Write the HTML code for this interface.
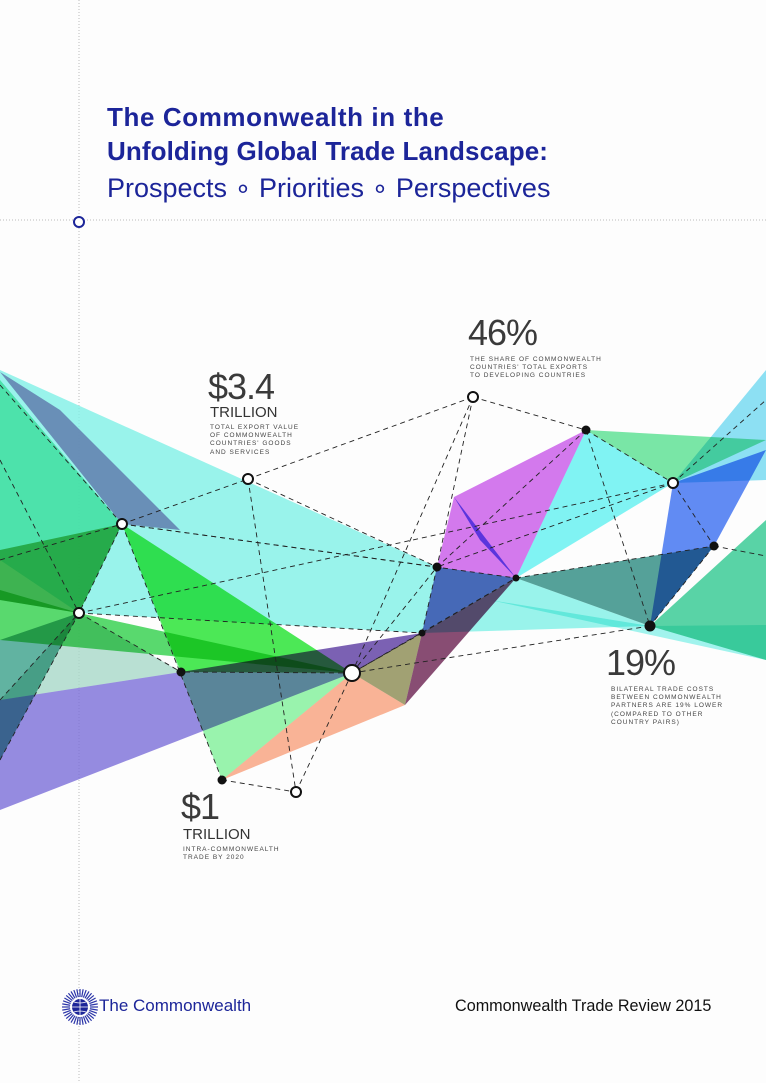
<!DOCTYPE html>
<html><head><meta charset="utf-8"><style>
html,body{margin:0;padding:0;background:#fdfdfd;}
#wrap{position:relative;width:766px;height:1083px;overflow:hidden;background:#fdfdfd;font-family:"Liberation Sans",sans-serif;}
.t{position:absolute;color:#1c2599;white-space:nowrap;}
.big{position:absolute;color:#3a3a3a;font-size:36px;letter-spacing:-1px;}
.tr{position:absolute;color:#333;font-size:15px;}
.sm{position:absolute;color:#444;font-size:6.5px;letter-spacing:1px;line-height:8.2px;}
svg{position:absolute;left:0;top:0;}
</style></head><body>
<div id="wrap">
<svg width="766" height="1083">
 <line x1="79" y1="0" x2="79" y2="1083" stroke="#bbb" stroke-dasharray="1,2"/>
 <line x1="0" y1="220" x2="766" y2="220" stroke="#bbb" stroke-dasharray="1,2"/>
 <circle cx="79" cy="222" r="5" fill="#fff" stroke="#1c2599" stroke-width="2"/>
 <g id="polys" style="isolation:isolate"></g>
 <g id="lines"></g>
 <g id="nodes"></g>
</svg>
<div class="t" style="left:107px;top:102px;font-size:26px;font-weight:bold;letter-spacing:0.6px;">The Commonwealth in the</div>
<div class="t" style="left:107px;top:136px;font-size:26px;font-weight:bold;letter-spacing:0.1px;">Unfolding Global Trade Landscape:</div>
<div class="t" style="left:107px;top:173px;font-size:27px;">Prospects ∘ Priorities ∘ Perspectives</div>

<div class="big" style="left:468px;top:312px;">46%</div>
<div class="sm" style="left:470px;top:356px;">THE SHARE OF COMMONWEALTH<br>COUNTRIES' TOTAL EXPORTS<br>TO DEVELOPING COUNTRIES</div>

<div class="big" style="left:208px;top:366px;">$3.4</div>
<div class="tr" style="left:210px;top:404px;">TRILLION</div>
<div class="sm" style="left:210px;top:424px;">TOTAL EXPORT VALUE<br>OF COMMONWEALTH<br>COUNTRIES' GOODS<br>AND SERVICES</div>

<div class="big" style="left:606px;top:642px;">19%</div>
<div class="sm" style="left:611px;top:686px;">BILATERAL TRADE COSTS<br>BETWEEN COMMONWEALTH<br>PARTNERS ARE 19% LOWER<br>(COMPARED TO OTHER<br>COUNTRY PAIRS)</div>

<div class="big" style="left:181px;top:786px;">$1</div>
<div class="tr" style="left:183px;top:826px;">TRILLION</div>
<div class="sm" style="left:183px;top:846px;">INTRA-COMMONWEALTH<br>TRADE BY 2020</div>

<svg width="40" height="40" style="left:60px;top:987px;">
 <g stroke="#2a34a8" stroke-width="1.2" id="rays"></g>
 <circle cx="20" cy="20" r="8" fill="#1c2599"/>
 <path d="M12 20h16M20 12v16M14 15q6 2 12 0M14 25q6-2 12 0" stroke="#fff" stroke-width="0.8" fill="none"/>
</svg>
<div class="t" style="left:99px;top:996px;font-size:17px;color:#1c2599;">The Commonwealth</div>
<div class="t" style="left:455px;top:997px;font-size:16.2px;color:#111;">Commonwealth Trade Review 2015</div>
</div>
<script>
const nodeNames=['A','B','C','D','E','F','G','H','I','J','K','L','M','N','O','P'];
const nodeX=[122,79,248,473,586,673,714,437,516,422,650,352,181,222,296,405];
const nodeY=[524,613,479,397,430,483,546,567,578,633,626,673,672,780,792,705];
const nodeType=['o','o','o','o','f','o','f','f','fs','fs','fl','ol','f','f','o','n'];
const NS='http://www.w3.org/2000/svg';
function P(n){const i=nodeNames.indexOf(n);return [nodeX[i],nodeY[i]];}
const polys=[
 ['#7ff0e6',[[0,370],[437,567],[516,578],[650,626],[422,633],[79,613],[0,560]]],
 ['#5fe8a8',[[0,380],[122,524],[79,613],[0,600]]],
 ['#9a7ab8',[[0,372],[122,524],[180,530],[60,410]]],
 ['#5cf05c',[[122,524],[352,673],[181,672]]],
 ['#7ff098',[[122,524],[352,673],[222,780]]],
 ['#5ab04a',[[0,550],[122,524],[79,613],[0,600]]],
 ['#2fd04a',[[0,590],[79,613],[352,673],[0,640]]],
 ['#3aa08a',[[0,640],[79,613],[0,760]]],
 ['#7a6ed8',[[0,700],[181,672],[352,673],[0,810]]],
 ['#a8d8c8',[[79,613],[181,672],[0,700]]],
 ['#5a3aa0',[[181,672],[352,673],[422,633]]],
 ['#f8a07c',[[222,780],[352,673],[405,705]]],
 ['#8a8a50',[[352,673],[422,633],[405,705]]],
 ['#6a2050',[[422,633],[516,578],[405,705]]],
 ['#5048b8',[[437,567],[516,578],[422,633]]],
 ['#c858e8',[[454,497],[586,430],[516,578],[437,567]]],
 ['#4848e8',[[454,497],[516,578],[480,540]]],
 ['#60f0f0',[[586,430],[673,483],[516,578]]],
 ['#58e090',[[586,430],[766,440],[673,483]]],
 ['#70d8f0',[[673,483],[766,370],[766,480]]],
 ['#3a6ef0',[[673,483],[766,450],[714,546],[650,626]]],
 ['#2a8a80',[[516,578],[714,546],[650,626]]],
 ['#30c890',[[650,626],[766,520],[766,660]]],
 ['#8af0e8',[[490,600],[650,626],[766,625],[766,660]]]
];
const pg=document.getElementById('polys');
polys.forEach((p,i)=>{const e=document.createElementNS(NS,'polygon');
 e.setAttribute('points',p[1].map(q=>q.join(',')).join(' '));
 e.setAttribute('fill',p[0]);e.setAttribute('fill-opacity','0.8');
 e.style.mixBlendMode='multiply';
 
 
 pg.appendChild(e);});
const edges=['C-D','D-E','E-F','A-C','C-H','D-L','E-K','E-H','F-H','B-F','A-I','I-G','F-G','G-K','K-L','L-M','N-O','O-L','A-N','C-O','L-I','L-H','J-I','J-L','B-J','A-H','B-M','A-B','H-J','D-H'];
const lg=document.getElementById('lines');
function line(a,b){const e=document.createElementNS(NS,'line');
 e.setAttribute('x1',a[0]);e.setAttribute('y1',a[1]);e.setAttribute('x2',b[0]);e.setAttribute('y2',b[1]);
 e.setAttribute('stroke','#222');e.setAttribute('stroke-width','0.9');e.setAttribute('stroke-dasharray','5,4');
 
 
 lg.appendChild(e);}
edges.forEach(s=>{const [a,b]=s.split('-');line(P(a),P(b));});
[[[0,385],P('A')],[[0,460],P('B')],[[0,700],P('B')],[[0,760],P('B')],[[0,560],P('A')],[P('G'),[766,556]],[P('F'),[766,400]]].forEach(s=>line(s[0],s[1]));
const ng=document.getElementById('nodes');
nodeNames.forEach((n,i)=>{const t=nodeType[i];if(t==='n')return;
 const c=document.createElementNS(NS,'circle');
 c.setAttribute('cx',nodeX[i]);c.setAttribute('cy',nodeY[i]);
 let r=t==='o'?5:t==='ol'?8:t==='fl'?5.5:t==='fs'?3.5:4.5;
 c.setAttribute('r',r);
 if(t[0]==='o'){c.setAttribute('fill','#fff');c.setAttribute('stroke','#111');c.setAttribute('stroke-width','2');}
 else c.setAttribute('fill','#111');
 
 
 ng.appendChild(c);});
const rays=document.getElementById('rays');
for(let k=0;k<36;k++){const a=k*Math.PI/18;const e=document.createElementNS(NS,'line');
 e.setAttribute('x1',20+10*Math.cos(a));e.setAttribute('y1',20+10*Math.sin(a));
 e.setAttribute('x2',20+18*Math.cos(a));e.setAttribute('y2',20+18*Math.sin(a));
 
 
 rays.appendChild(e);}
</script>
</body></html>
